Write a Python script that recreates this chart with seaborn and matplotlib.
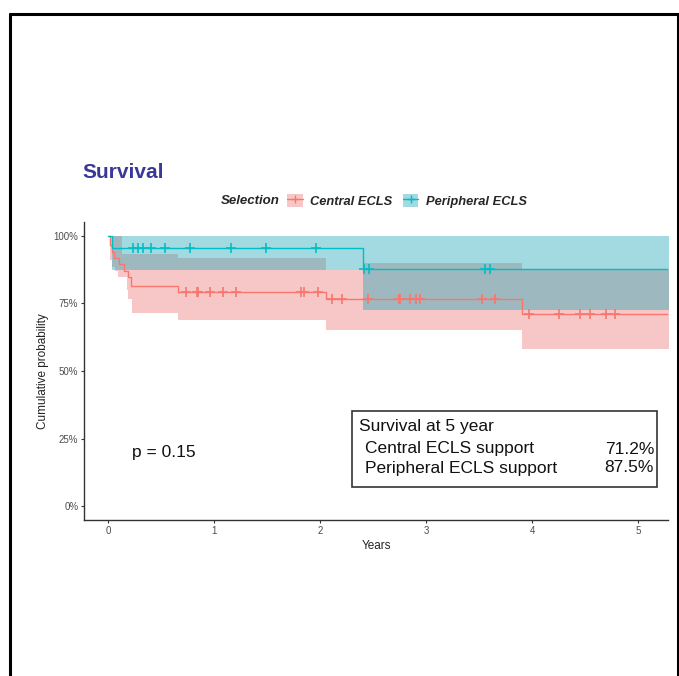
import numpy as np
import pandas as pd
import seaborn as sns
import matplotlib.pyplot as plt
from matplotlib.lines import Line2D
from matplotlib.patches import Patch, Rectangle

# Kaplan-Meier steps (years, survival %)
central_t = [0, 0.02, 0.04, 0.06, 0.10, 0.15, 0.19, 0.22, 0.66, 2.06, 3.90]
central_s = [100, 96.5, 94.0, 91.8, 89.4, 87.0, 84.7, 81.4, 79.2, 76.4, 71.2]
central_lo_t = [0, 0.02, 0.04, 0.07, 0.09, 0.18, 0.19, 0.23, 0.66, 2.06, 3.90]
central_lo = [100, 91.0, 88.5, 87.0, 84.7, 80.0, 76.7, 71.5, 69.0, 65.3, 58.0]
central_hi_t = [0, 0.13, 0.66, 2.06, 2.40, 3.90]
central_hi = [100, 93.3, 91.7, 87.3, 89.8, 87.8]
central_cens = [0.74, 0.84, 0.85, 0.96, 1.08, 1.21, 1.82, 1.85, 1.98, 2.11, 2.21,
                2.45, 2.74, 2.75, 2.85, 2.90, 2.94, 3.53, 3.65, 3.97, 4.25, 4.45,
                4.54, 4.70, 4.78]

periph_t = [0, 0.04, 2.40]
periph_s = [100, 95.5, 87.5]
periph_lo_t = [0, 0.035, 2.40]
periph_lo = [100, 87.4, 72.6]
periph_hi_t = [0]
periph_hi = [100]
periph_cens = [0.24, 0.28, 0.33, 0.41, 0.54, 0.77, 1.16, 1.49, 1.96, 2.41, 2.46, 3.55, 3.60]

groups = ["Central ECLS", "Peripheral ECLS"]
line_colors = ["#F8766D", "#00BFC4"]
band_colors = ["#ED7575", "#19A2B6"]
surv_table = [("Central ECLS support", "71.2%"), ("Peripheral ECLS support", "87.5%")]
p_text = "p = 0.15"
t_end = 5.3


def step_at(ts, vs, x):
    idx = np.searchsorted(np.asarray(ts), np.asarray(x), side="right") - 1
    return np.asarray(vs, dtype=float)[idx]


sns.set_theme(style="ticks")
plt.rcParams["font.family"] = ["Liberation Sans", "DejaVu Sans"]

fig = plt.figure(figsize=(6.79, 6.76), dpi=100)
ax = fig.add_axes([84 / 679, 1 - 520 / 676, 584 / 679, 298 / 676])

series = [
    (central_t, central_s, central_lo_t, central_lo, central_hi_t, central_hi, central_cens),
    (periph_t, periph_s, periph_lo_t, periph_lo, periph_hi_t, periph_hi, periph_cens),
]

# confidence bands
for (t, s, lt, lo, ht, hi, cens), col in zip(series, band_colors):
    grid = np.unique(np.concatenate([lt, ht, [t_end]]))
    ax.fill_between(grid, step_at(lt, lo, grid), step_at(ht, hi, grid),
                    step="post", color=col, alpha=0.4, lw=0)

# survival curves + censor marks
for (t, s, lt, lo, ht, hi, cens), col in zip(series, line_colors):
    df = pd.DataFrame({"time": list(t) + [t_end], "surv": list(s) + [s[-1]]})
    sns.lineplot(data=df, x="time", y="surv", ax=ax, color=col, lw=1.0,
                 drawstyle="steps-post", estimator=None, sort=False)
    cdf = pd.DataFrame({"time": cens, "surv": step_at(t, s, cens)})
    sns.scatterplot(data=cdf, x="time", y="surv", ax=ax, color=col, marker="+",
                    s=55, linewidth=1.2, zorder=3)

ax.set_xlim(-0.226, 5.28)
ax.set_ylim(-5, 105)
ax.set_xticks([0, 1, 2, 3, 4, 5])
ax.set_yticks([0, 25, 50, 75, 100])
ax.set_yticklabels(["0%", "25%", "50%", "75%", "100%"])
ax.tick_params(labelsize=7, labelcolor="#4d4d4d", length=2.5, width=0.8, color="#333333", pad=1.5)
ax.set_xlabel("Years", fontsize=8.5, color="#222222", labelpad=3)
ax.set_ylabel("Cumulative probability", fontsize=8.5, color="#222222", labelpad=3)
sns.despine(ax=ax)
for sp in ["left", "bottom"]:
    ax.spines[sp].set_color("#333333")
    ax.spines[sp].set_linewidth(1.0)

# p-value and survival table
fig.text(132 / 679, 1 - 453 / 676, p_text, fontsize=12.5, va="center", ha="left", color="#111111")
fig.add_artist(Rectangle((352 / 679, 1 - 487 / 676), 305 / 679, 76 / 676,
                         transform=fig.transFigure, fill=False, edgecolor="#333333", lw=1.2))
fig.text(359 / 679, 1 - 427 / 676, "Survival at 5 year", fontsize=12.5, va="center", color="#111111")
for (lab, val), yy in zip(surv_table, [449, 468]):
    fig.text(365 / 679, 1 - yy / 676, lab, fontsize=12.5, va="center", color="#111111")
    fig.text(654 / 679, 1 - yy / 676, val, fontsize=12.5, va="center", ha="right", color="#111111")

# title and legend
fig.text(82 / 679, 1 - 172 / 676, "Survival", fontsize=15, fontweight="bold",
         color="#3a3896", va="center")
fig.text(221 / 679, 1 - 201 / 676, "Selection", fontsize=9.5, fontweight="bold",
         fontstyle="italic", va="center")
handles = [(Patch(facecolor=bc, alpha=0.4, lw=0),
            Line2D([], [], color=lc, lw=1.0, marker="+", markersize=6))
           for bc, lc in zip(band_colors, line_colors)]
fig.legend(handles, groups, loc="center left", bbox_to_anchor=(287 / 679, 1 - 201 / 676),
           ncol=2, frameon=False, handlelength=1.2, handleheight=1.2, handletextpad=0.6,
           columnspacing=0.8, borderpad=0, borderaxespad=0,
           prop={"size": 9.3, "weight": "bold", "style": "italic"})

# outer frame of the panel
for xs, ys in [([9.5, 9.5], [676, 13.5]), ([9.5, 677.5], [13.5, 13.5]), ([677.5, 677.5], [13.5, 676])]:
    fig.add_artist(Line2D([x / 679 for x in xs], [1 - y / 676 for y in ys],
                          transform=fig.transFigure, color="black", lw=2.2))

fig.savefig("out.png", dpi=100)
